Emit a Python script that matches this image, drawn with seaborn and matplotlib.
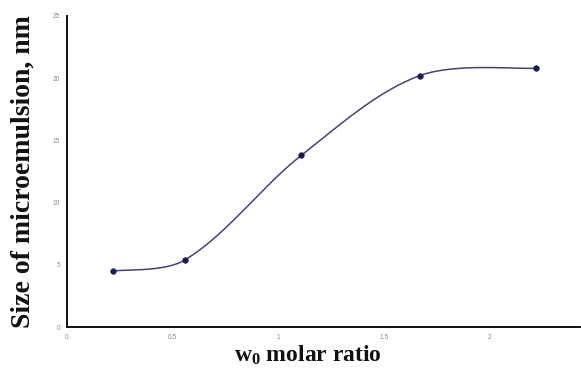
import numpy as np
import pandas as pd
import matplotlib
matplotlib.use("Agg")
import matplotlib.pyplot as plt
import seaborn as sns

# data
w0_ratio = [0.22, 0.56, 1.11, 1.67, 2.22]
size_nm = [4.5, 5.4, 13.8, 20.2, 20.8]
x_ticks = [0, 0.5, 1, 1.5, 2]
x_tick_labels = ["0", "0.5", "1", "1.5", "2"]
y_ticks = [0, 5, 10, 15, 20, 25]
x_label = r"w$_{\mathregular{0}}$ molar ratio"
y_label = "Size of microemulsion, nm"

sns.set_style("white")
plt.rcParams["font.family"] = ["Liberation Serif", "DejaVu Sans"]
plt.rcParams["mathtext.fontset"] = "custom"
plt.rcParams["mathtext.rm"] = "Liberation Serif:bold"
plt.rcParams["mathtext.it"] = "Liberation Serif:bold"
plt.rcParams["mathtext.bf"] = "Liberation Serif:bold"

XPX, YPX = 211.5, 12.4  # approx pixel scale, used for chord-length weighting


def smooth_curve(xs, ys, n=60):
    """Excel-like smoothed line: chord-weighted Catmull-Rom Bezier segments."""
    P = np.column_stack([xs, ys]).astype(float)
    P_ext = np.vstack([P[0], P, P[-1]])
    scale = np.array([XPX, YPX])

    def dist(a, b):
        return np.linalg.norm((b - a) * scale)

    out = []
    t = np.linspace(0, 1, n)[:, None]
    for i in range(len(P) - 1):
        p0, p1, p2, p3 = P_ext[i], P_ext[i + 1], P_ext[i + 2], P_ext[i + 3]
        d01, d12, d23 = dist(p0, p1), dist(p1, p2), dist(p2, p3)
        w1 = d12 / (d01 + d12) if d01 > 0 else 0.5
        w2 = d12 / (d12 + d23) if d23 > 0 else 0.5
        c1 = p1 + (p2 - p0) * w1 / 3.0
        c2 = p2 - (p3 - p1) * w2 / 3.0
        seg = ((1 - t) ** 3) * p1 + 3 * ((1 - t) ** 2) * t * c1 + 3 * (1 - t) * t ** 2 * c2 + t ** 3 * p2
        out.append(seg if i == 0 else seg[1:])
    S = np.vstack(out)
    return S[:, 0], S[:, 1]


sx, sy = smooth_curve(w0_ratio, size_nm)
curve = pd.DataFrame({"x": sx, "y": sy})
pts = pd.DataFrame({"x": w0_ratio, "y": size_nm})

fig = plt.figure(figsize=(5.81, 3.70), dpi=100)
ax = fig.add_axes([0.1153, 0.1162, 0.8830, 0.8406])

sns.lineplot(data=curve, x="x", y="y", ax=ax, color="#45456f", linewidth=1.1, sort=False)
sns.scatterplot(data=pts, x="x", y="y", ax=ax, color="#1c1c4a", s=16, marker="o",
                edgecolor="#1c1c4a", linewidth=0.5, zorder=3)

ax.set_xlim(0, 2.43)
ax.set_ylim(0, 25)
ax.set_xticks(x_ticks)
ax.set_xticklabels(x_tick_labels)
ax.set_yticks(y_ticks)
ax.tick_params(axis="both", direction="out", length=3, width=1, colors="#111111",
               labelsize=4.8, labelcolor="#8a8a8a", pad=2)
for lab in ax.get_xticklabels() + ax.get_yticklabels():
    lab.set_family(["Liberation Sans", "DejaVu Sans"])

for side in ["top", "right"]:
    ax.spines[side].set_visible(False)
for side in ["left", "bottom"]:
    ax.spines[side].set_color("#111111")
    ax.spines[side].set_linewidth(1.4)

ax.set_xlabel(x_label, fontsize=17, fontweight="bold", color="#111111")
ax.xaxis.set_label_coords(0.47, -0.055)
ax.xaxis.label.set_va("top")
ax.set_ylabel(y_label, fontsize=20, fontweight="bold", color="#111111")
ax.yaxis.set_label_coords(-0.062, 0.5)

fig.savefig("out.png", dpi=100)
